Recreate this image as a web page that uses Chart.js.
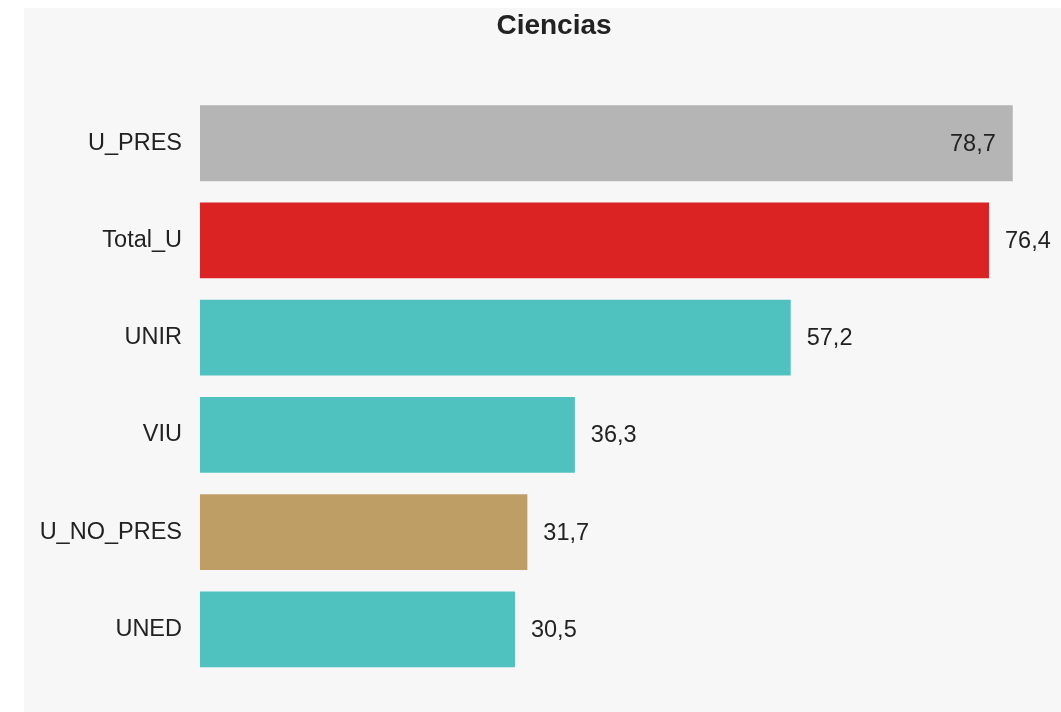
<!DOCTYPE html>
<html>
<head>
<meta charset="utf-8">
<script src="https://cdn.jsdelivr.net/npm/chart.js@4"></script>
<style>
  html, body { margin: 0; padding: 0; background: #fff; overflow: hidden; }
  #wrap { position: absolute; left: 24px; top: 8px; width: 1060px; height: 704px; background: #f7f7f7; }
</style>
</head>
<body>
<div id="wrap"><canvas id="c"></canvas></div>
<script>
const categories = ['U_PRES', 'Total_U', 'UNIR', 'VIU', 'U_NO_PRES', 'UNED'];
const values = [78.7, 76.4, 57.2, 36.3, 31.7, 30.5];
const barColors = ['#b5b5b5', '#dc2324', '#4fc2bf', '#4fc2bf', '#bf9e66', '#4fc2bf'];

const FONT = "'Liberation Sans', Arial, sans-serif";

// value at the end of each bar; goes inside when it would run off the page
const valueLabels = {
  id: 'valueLabels',
  afterDatasetsDraw(chart) {
    const ctx = chart.ctx;
    const meta = chart.getDatasetMeta(0);
    ctx.save();
    ctx.font = '23.5px ' + FONT;
    ctx.fillStyle = '#222';
    ctx.textBaseline = 'middle';
    meta.data.forEach((bar, i) => {
      const txt = values[i].toFixed(1).replace('.', ',');
      const w = ctx.measureText(txt).width;
      if (bar.x + 16 + w > chart.chartArea.right - 20) {
        ctx.textAlign = 'right';
        ctx.fillText(txt, bar.x - 17, bar.y + 1);
      } else {
        ctx.textAlign = 'left';
        ctx.fillText(txt, bar.x + 16, bar.y + 1);
      }
    });
    ctx.restore();
  }
};

new Chart(document.getElementById('c'), {
  type: 'bar',
  data: {
    labels: categories,
    datasets: [{
      data: values,
      backgroundColor: barColors,
      borderWidth: 0,
      barPercentage: 0.78,
      categoryPercentage: 1
    }]
  },
  options: {
    indexAxis: 'y',
    animation: false,
    responsive: true,
    maintainAspectRatio: false,
    layout: { padding: { bottom: 34 } },
    plugins: {
      legend: { display: false },
      tooltip: { enabled: false },
      title: {
        display: true,
        text: 'Ciencias',
        color: '#222',
        font: { family: FONT, size: 28, weight: 'bold', lineHeight: 1.2 },
        padding: { top: 1, bottom: 52 }
      }
    },
    scales: {
      x: {
        display: false,
        min: 0,
        max: 85.6
      },
      y: {
        grid: { display: false },
        border: { display: false },
        ticks: {
          color: '#222',
          padding: 10,
          font: { family: FONT, size: 23.5 }
        },
        afterFit(scale) { scale.width = 176; }
      }
    }
  },
  plugins: [valueLabels]
});
</script>
</body>
</html>
